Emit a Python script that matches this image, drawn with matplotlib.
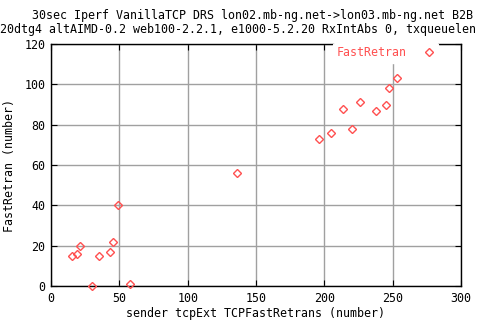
import matplotlib
matplotlib.use("Agg")
import matplotlib.pyplot as plt

# sender tcpExt TCPFastRetrans vs FastRetran, one red series
fast_retrans_sent = [15, 19, 21, 30, 35, 43, 45, 49, 58, 136, 196, 205, 214, 220,
                     226, 238, 245, 247, 253]
fast_retran = [15, 16, 20, 0, 15, 17, 22, 40, 1, 56, 73, 76, 88, 78,
               91, 87, 90, 98, 103]

x_ticks = [0, 50, 100, 150, 200, 250, 300]
y_ticks = [0, 20, 40, 60, 80, 100, 120]

title_1 = "30sec Iperf VanillaTCP DRS lon02.mb-ng.net->lon03.mb-ng.net B2B"
title_2 = "20dtg4 altAIMD-0.2 web100-2.2.1, e1000-5.2.20 RxIntAbs 0, txqueuelen"

red = "#ff5050"
font = "DejaVu Sans Mono"
fs = 8.4

plt.rcParams['font.family'] = [font]

fig = plt.figure(figsize=(4.8, 3.2), dpi=100)
ax = fig.add_axes([51 / 480, 34 / 320, 410 / 480, 242 / 320])

ax.plot(fast_retrans_sent, fast_retran, linestyle='none', marker='D', markersize=4.0,
        markerfacecolor='none', markeredgecolor=red, markeredgewidth=1.0,
        clip_on=False, label='FastRetran', zorder=3)

ax.set_xlim(0, 300)
ax.set_ylim(0, 120)
ax.set_xticks(x_ticks)
ax.set_yticks(y_ticks)
ax.tick_params(direction='in', length=4.3, width=0.8, top=True, right=True,
               labelsize=fs, pad=4, colors='black')
ax.grid(True, color='#a0a0a0', linewidth=1.0)
ax.set_axisbelow(True)
for sp in ax.spines.values():
    sp.set_linewidth(1.0)

ax.set_xlabel("sender tcpExt TCPFastRetrans (number)", fontsize=fs, labelpad=2)
ax.set_ylabel("FastRetran (number)", fontsize=fs, labelpad=6)

leg = ax.legend(loc='upper right', bbox_to_anchor=(0.945, 1.005), markerfirst=False,
                frameon=True, fontsize=fs, handletextpad=1.4, borderpad=0.3,
                handlelength=1.0, borderaxespad=0)
leg.get_frame().set_edgecolor('white')
leg.get_frame().set_facecolor('white')
leg.get_frame().set_alpha(1.0)
for t in leg.get_texts():
    t.set_color(red)

fig.text(32 / 480, 1 - 16 / 320, title_1, fontsize=fs, ha='left', va='center')
fig.text(0, 1 - 29 / 320, title_2, fontsize=fs, ha='left', va='center')

fig.savefig("out.png", dpi=100)
